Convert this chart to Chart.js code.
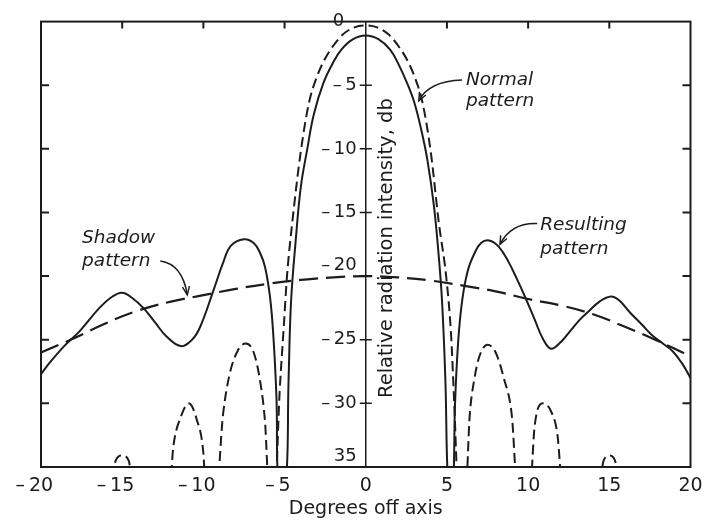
<!DOCTYPE html>
<html>
<head>
<meta charset="utf-8">
<script src="https://cdn.jsdelivr.net/npm/chart.js@4.4.0/dist/chart.umd.min.js"></script>
<style>
  html, body { margin: 0; padding: 0; background: #fff; }
  canvas { display: block; }
</style>
</head>
<body>
<canvas id="pattern" width="704" height="520"></canvas>
<script>
// Tick values
const degreeTicks = [-20, -15, -10, -5, 0, 5, 10, 15, 20];
const dbTicks = [0, -5, -10, -15, -20, -25, -30, -35];

// Normal pattern (dashed), lobes dip below the -35 db floor between them
const normalX = [-15.75, -15.4, -15.0, -14.6, -14.25,
  -12.1, -11.85, -11.4, -10.9, -10.4, -10.0, -9.85,
  -9.2, -8.8, -8.4, -7.9, -7.4, -6.9, -6.5, -6.2, -5.95,
  -5.6, -5.3, -5.05, -4.85, -4.5, -4.0, -3.5, -3.0, -2.5, -2.0, -1.4, -0.7, 0,
  0.7, 1.4, 2.0, 2.5, 3.0, 3.5, 4.0, 4.5, 4.95, 5.25, 5.45, 5.7,
  6.15, 6.4, 6.7, 7.0, 7.5, 8.0, 8.5, 9.0, 9.35,
  10.1, 10.4, 10.9, 11.4, 11.8, 12.15,
  14.3, 14.65, 15.0, 15.35, 15.7];
const normalDb = [-37, -34.5, -34.1, -34.5, -37,
  -37, -33.4, -31.1, -30.0, -31.3, -33.9, -37,
  -37, -31.0, -27.8, -25.9, -25.3, -26.0, -28.3, -31.5, -37,
  -37, -29.0, -24.0, -20.0, -15.5, -10.2, -6.4, -4.3, -2.9, -1.9, -1.0, -0.45, -0.3,
  -0.45, -1.0, -1.9, -2.9, -4.3, -6.4, -10.2, -15.8, -20.0, -24.5, -30.0, -37,
  -37, -31.0, -28.0, -26.3, -25.4, -26.0, -28.0, -31.0, -37,
  -37, -31.8, -30.0, -30.6, -32.4, -37,
  -37, -34.5, -34.1, -34.5, -37];

// Resulting pattern (solid)
const resultX = [-20, -19.4, -18.5, -17.6, -16.4, -15.6, -15.0, -14.4, -13.7, -13.0, -12.3,
  -11.4, -10.7, -10.2, -9.4, -8.8, -8.3, -7.5, -6.9, -6.5, -6.2, -5.9, -5.7, -5.5, -5.35,
  -4.95, -4.75, -4.6, -4.3, -4.0, -3.6, -3.2, -2.6, -2.0, -1.5, -0.8, 0,
  0.8, 1.5, 2.0, 2.6, 3.0, 3.4, 3.8, 4.2, 4.5, 4.7, 4.9, 5.1,
  5.35, 5.5, 5.7, 5.95, 6.3, 6.7, 7.1, 7.6, 8.2, 8.8, 9.3, 9.8, 10.4, 10.9, 11.4, 12.0,
  12.6, 13.2, 13.7, 14.4, 15.1, 15.6, 16.3, 17.0, 17.6, 18.3, 18.9, 19.5, 20];
const resultDb = [-27.7, -26.7, -25.4, -24.3, -22.5, -21.6, -21.3, -21.7, -22.5, -23.6, -24.7,
  -25.5, -25.0, -24.0, -21.2, -19.0, -17.6, -17.1, -17.4, -18.2, -19.3, -21.6, -24.5, -29.5, -37,
  -37, -28.0, -22.0, -17.0, -13.0, -10.0, -7.3, -4.8, -3.2, -2.2, -1.4, -1.1,
  -1.4, -2.2, -3.3, -5.0, -6.4, -8.4, -10.9, -14.5, -18.5, -22.0, -28.0, -37,
  -37, -30.0, -25.0, -21.8, -19.5, -18.2, -17.4, -17.2, -17.7, -18.9, -20.2, -21.6, -23.4, -24.9, -25.7, -25.2,
  -24.3, -23.4, -22.8, -22.0, -21.6, -21.9, -22.9, -23.8, -24.6, -25.3, -25.9, -26.9, -28.0];

// Shadow pattern (long dashes)
const shadowX = [-20, -18, -16, -14, -12, -10, -8, -6, -4, -2, 0, 2, 4, 6, 8, 10, 12, 14, 16, 18, 20];
const shadowDb = [-26.0, -24.9, -23.7, -22.7, -22.0, -21.5, -21.0, -20.6, -20.3, -20.1, -20.0,
  -20.1, -20.35, -20.75, -21.2, -21.8, -22.3, -23.0, -24.0, -25.1, -26.3];

const ink = '#1c1c1c';
const font = 'DejaVu Sans';

const toPoints = (xs, ys) => xs.map((v, i) => ({ x: v, y: ys[i] }));

// negative labels: short dash, with trailing space so the digits sit on the tick
const degreeLabel = v => v < 0 ? '\u2013\u2009' + (-v) + '\u2002\u2009' : String(v);
const dbLabel = v => {
  if (v === 0) return '0\u2003\u2009';
  if (v === -35) return ['35\u2002', ''];
  const s = '\u2013\u2009' + (-v) + '\u2002';
  return v === -20 ? [s, ''] : s;
};

// frame, inward ticks, axis title and the hand-lettered notes
const frameAndNotes = {
  id: 'frameAndNotes',
  afterDraw(chart) {
    const { ctx, chartArea: a, scales: { x, y } } = chart;
    const px = v => x.getPixelForValue(v);
    const py = v => y.getPixelForValue(v);
    ctx.save();
    ctx.strokeStyle = ink;
    ctx.fillStyle = ink;
    ctx.lineWidth = 2;
    ctx.strokeRect(a.left, a.top, a.right - a.left, a.bottom - a.top);

    ctx.beginPath();
    dbTicks.forEach(v => {
      if (v === 0 || v === -35) return;
      ctx.moveTo(a.left, py(v)); ctx.lineTo(a.left + 8, py(v));
      ctx.moveTo(a.right, py(v)); ctx.lineTo(a.right - 8, py(v));
    });
    degreeTicks.forEach(v => {
      if (Math.abs(v) === 20 || v === 0) return;
      ctx.moveTo(px(v), a.top); ctx.lineTo(px(v), a.top + 7);
    });
    ctx.stroke();

    // crosses on the centre axis
    ctx.lineWidth = 1.5;
    ctx.beginPath();
    dbTicks.forEach(v => {
      if (v === 0 || v === -35) return;
      ctx.moveTo(px(0) - 6, py(v)); ctx.lineTo(px(0) + 6, py(v));
    });
    ctx.stroke();

    // y title, reading upward, right of the centre line
    ctx.save();
    ctx.translate(px(1.3), py(-17.8));
    ctx.rotate(-Math.PI / 2);
    ctx.font = '19.5px "' + font + '"';
    ctx.textAlign = 'center';
    ctx.textBaseline = 'middle';
    ctx.fillText('Relative radiation intensity, db', 0, 0);
    ctx.restore();

    const notes = [
      { lines: ['Normal', 'pattern'], at: [6.17, -4.59, -6.22],
        arrow: [[5.93, -4.59], [3.89, -4.67], [3.27, -6.22]] },
      { lines: ['Shadow', 'pattern'], at: [-17.47, -17.03, -18.82],
        arrow: [[-12.65, -18.82], [-11.3, -19.06], [-10.99, -21.47]] },
      { lines: ['Resulting', 'pattern'], at: [10.74, -16.02, -17.89],
        arrow: [[10.56, -15.87], [8.95, -15.79], [8.27, -17.5]] }
    ];
    ctx.font = 'italic 18.5px "' + font + '"';
    ctx.textAlign = 'left';
    ctx.textBaseline = 'middle';
    ctx.lineWidth = 1.5;
    notes.forEach(n => {
      ctx.fillText(n.lines[0], px(n.at[0]), py(n.at[1]));
      ctx.fillText(n.lines[1], px(n.at[0]), py(n.at[2]));
      const [t, c, h] = n.arrow.map(p => [px(p[0]), py(p[1])]);
      ctx.beginPath();
      ctx.moveTo(t[0], t[1]);
      ctx.quadraticCurveTo(c[0], c[1], h[0], h[1]);
      ctx.stroke();
      const ang = Math.atan2(h[1] - c[1], h[0] - c[0]);
      ctx.beginPath();
      ctx.moveTo(h[0] - 9 * Math.cos(ang - 0.4), h[1] - 9 * Math.sin(ang - 0.4));
      ctx.lineTo(h[0], h[1]);
      ctx.lineTo(h[0] - 9 * Math.cos(ang + 0.4), h[1] - 9 * Math.sin(ang + 0.4));
      ctx.stroke();
    });
    ctx.restore();
  }
};

new Chart(document.getElementById('pattern'), {
  type: 'line',
  data: {
    datasets: [
      {
        label: 'Normal pattern',
        data: toPoints(normalX, normalDb),
        borderColor: ink,
        borderWidth: 2,
        borderDash: [10, 5],
        pointRadius: 0,
        cubicInterpolationMode: 'monotone'
      },
      {
        label: 'Resulting pattern',
        data: toPoints(resultX, resultDb),
        borderColor: ink,
        borderWidth: 2,
        pointRadius: 0,
        tension: 0.4
      },
      {
        label: 'Shadow pattern',
        data: toPoints(shadowX, shadowDb),
        borderColor: ink,
        borderWidth: 2.2,
        borderDash: [19, 8],
        pointRadius: 0,
        tension: 0.4
      }
    ]
  },
  options: {
    responsive: false,
    animation: false,
    layout: { padding: { left: 41, right: 13.5, top: 17, bottom: 0 } },
    plugins: { legend: { display: false }, tooltip: { enabled: false } },
    scales: {
      x: {
        type: 'linear',
        position: 'bottom',
        min: -20,
        max: 20,
        afterBuildTicks: s => { s.ticks = degreeTicks.map(v => ({ value: v })); },
        afterFit: s => { s.height = 53; },
        grid: { display: false },
        border: { display: false },
        ticks: {
          callback: degreeLabel,
          color: ink,
          padding: 0,
          maxRotation: 0,
          font: { family: font, size: 19 }
        },
        title: {
          display: true,
          text: 'Degrees off axis',
          color: ink,
          padding: { top: 0, bottom: 0 },
          font: { family: font, size: 19 }
        }
      },
      y: {
        type: 'linear',
        position: { x: 0 },
        min: -35,
        max: 0,
        afterBuildTicks: s => { s.ticks = dbTicks.map(v => ({ value: v })); },
        grid: { drawOnChartArea: false, drawTicks: false },
        border: { display: true, color: ink, width: 1.5 },
        ticks: {
          callback: dbLabel,
          color: ink,
          padding: 0,
          font: { family: font, size: 18 }
        }
      }
    }
  },
  plugins: [frameAndNotes]
});
</script>
</body>
</html>
